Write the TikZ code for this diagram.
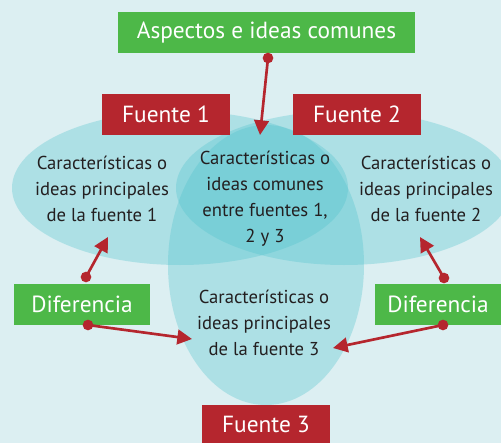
\documentclass[tikz,border=0pt]{standalone}
\usepackage{fontspec}
\setmainfont{PT Sans}
\usetikzlibrary{arrows.meta}
\definecolor{bgc}{RGB}{220,239,242}
\definecolor{venc}{RGB}{80,195,205}
\definecolor{grn}{RGB}{77,184,72}
\definecolor{rd}{RGB}{181,38,46}
\definecolor{txt}{RGB}{35,31,32}
\tikzset{
  venn/.style={fill=venc,fill opacity=0.33},
  gbox/.style={fill=grn,text=white,inner sep=0pt,font=\fontsize{17.5}{19}\selectfont},
  rbox/.style={fill=rd,text=white,inner sep=0pt,font=\fontsize{17.5}{19}\selectfont},
  body/.style={text=txt,align=center,inner sep=0pt,font=\fontsize{14}{19.5}\selectfont},
  conn/.style={draw=rd,line width=2pt,-{Triangle[length=11pt,width=11pt]}},
  dot/.style={fill=rd,circle,inner sep=0pt,minimum size=8pt}
}
\begin{document}
\begin{tikzpicture}[x=0.75pt,y=-0.75pt]
\fill[bgc] (0,0) rectangle (501,443);
\useasboundingbox (0,0) rectangle (501,443);
% Venn ellipses
\fill[venn] (180,188) ellipse [x radius=126pt, y radius=57.75pt];
\fill[venn] (344,188) ellipse [x radius=126pt, y radius=57.75pt];
\fill[venn] (266,265) ellipse [x radius=73.5pt, y radius=105pt];
% boxes
\node[gbox,minimum width=222.75pt,minimum height=30.75pt] (asp) at (266.5,32.5) {Aspectos e ideas comunes};
\node[rbox,minimum width=96pt,minimum height=30.75pt] (f1) at (166,114.5) {Fuente 1};
\node[rbox,minimum width=96pt,minimum height=30.75pt] (f2) at (357,114.5) {Fuente 2};
\node[rbox,minimum width=96pt,minimum height=28.5pt] (f3) at (266,424) {Fuente 3};
\node[gbox,minimum width=102pt,minimum height=30.75pt] (d1) at (82,304.5) {Diferencia};
\node[gbox,minimum width=94.5pt,minimum height=30.75pt] (d2) at (438,304.5) {Diferencia};
% texts
\node[body] (t1) at (102,189) {Características o\\ideas principales\\de la fuente 1};
\node[body] (t2) at (426,189) {Características o\\ideas principales\\de la fuente 2};
\node[body] (tc) at (265,199) {Características o\\ideas comunes\\entre fuentes 1,\\2 y 3};
\node[body] (t3) at (264,323) {Características o\\ideas principales\\de la fuente 3};
% connector endpoints
\node[dot] (pa) at (268,58) {};
\node[dot] (p1) at (86,277) {};
\node[dot] (p2) at (444,278) {};
\node[dot] (p3) at (88,325) {};
\node[dot] (p4) at (443,325) {};
\coordinate (qa) at (260,135);
\coordinate (q1) at (108,237);
\coordinate (q2) at (420,237);
\coordinate (q3) at (192,339);
\coordinate (q4) at (333,348);
\draw[conn] (pa.center) -- (qa);
\draw[conn] (p1.center) -- (q1);
\draw[conn] (p2.center) -- (q2);
\draw[conn] (p3.center) -- (q3);
\draw[conn] (p4.center) -- (q4);
\end{tikzpicture}
\end{document}
